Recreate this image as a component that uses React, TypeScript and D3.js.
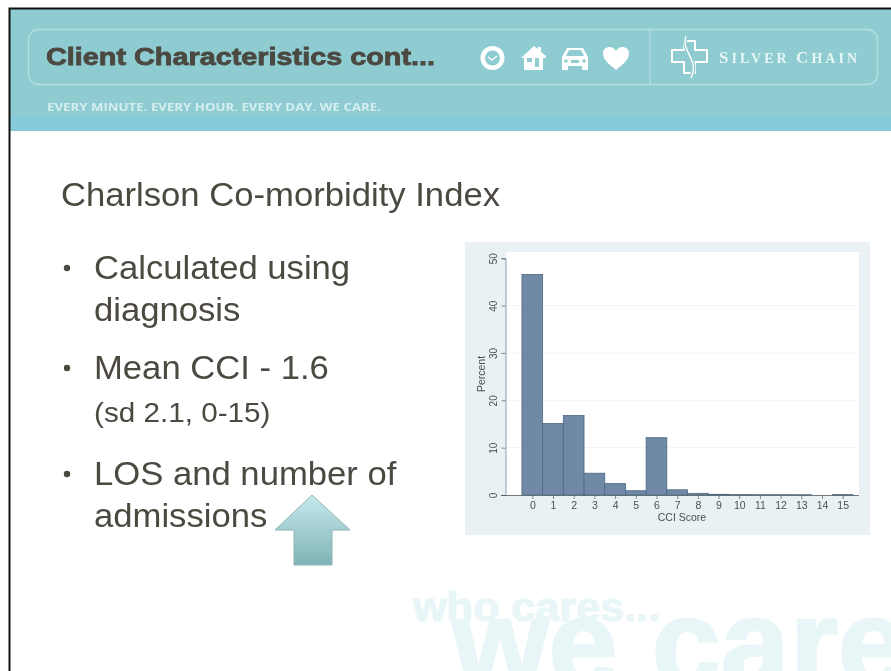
import React, { useEffect, useRef } from "react";
import * as d3 from "d3";

const scores = d3.range(0, 16);
const percents = [46.6, 15.1, 16.8, 4.6, 2.4, 0.9, 12.1, 1.1, 0.35, 0.15, 0.08, 0.07, 0.07, 0.06, 0, 0.08];
const yTicks = [0, 10, 20, 30, 40, 50];

const bullets = [
  { lines: ["Calculated using", "diagnosis"], baseline: 279 },
  { lines: ["Mean CCI - 1.6"], baseline: 379 },
  { lines: ["LOS and number of", "admissions"], baseline: 485 },
];

const SANS = "'Liberation Sans', Arial, sans-serif";
const INK = "#4b4841";
const AXIS = "#4f5c64";

const x = d3.scaleLinear().domain([0, 15]).range([532.3, 842.7]);
const y = d3.scaleLinear().domain([0, 50]).range([495, 258.3]);

function Chart() {
  const xRef = useRef<SVGGElement>(null);
  const yRef = useRef<SVGGElement>(null);

  useEffect(() => {
    const xAxis = d3.select(xRef.current!);
    xAxis.call(d3.axisBottom(x).tickValues(scores).tickSize(4).tickPadding(3).tickFormat(d3.format("d")) as any);
    xAxis.select(".domain").attr("d", "M501,0.5H859");
    xAxis.selectAll("line").attr("stroke", AXIS).attr("stroke-width", 0.7);
    xAxis.select(".domain").attr("stroke", AXIS).attr("stroke-width", 0.8);
    xAxis.selectAll("text").attr("fill", "#4a4f55").attr("font-size", 10.5).attr("font-family", SANS);

    const yAxis = d3.select(yRef.current!);
    yAxis.call(d3.axisLeft(y).tickValues(yTicks).tickSize(4).tickPadding(3) as any);
    yAxis.select(".domain").attr("stroke", AXIS).attr("stroke-width", 0.6);
    yAxis.selectAll("line").attr("stroke", AXIS).attr("stroke-width", 0.7);
    yAxis
      .selectAll("text")
      .attr("fill", "#4a4f55")
      .attr("font-size", 10)
      .attr("font-family", SANS)
      .attr("text-anchor", "middle")
      .attr("dy", 0)
      .attr("x", 0)
      .attr("y", 0)
      .attr("transform", "translate(-8.5,0) rotate(-90)");
  }, []);

  const barW = x(1) - x(0);
  return (
    <g filter="url(#soft)">
      <rect x={465} y={242} width={405} height={293} fill="#eaf1f4" />
      <rect x={506} y={252} width={353} height={243} fill="#ffffff" />
      {yTicks.slice(1, 5).map((t) => (
        <line key={t} x1={506} x2={859} y1={y(t)} y2={y(t)} stroke="#eef3f6" strokeWidth={0.8} />
      ))}
      {percents.map((p, i) => (
        <rect
          key={i}
          x={x(scores[i]) - barW / 2}
          y={y(p)}
          width={barW}
          height={y(0) - y(p)}
          fill="#6f89a6"
          stroke="#4d6782"
          strokeWidth={0.8}
        />
      ))}
      <g ref={xRef} transform={`translate(0,${y(0)})`} />
      <g ref={yRef} transform="translate(505.5,0)" />
      <text x={682} y={521} textAnchor="middle" fontSize={10.5} fill="#4a4f55" fontFamily={SANS}>CCI Score</text>
      <text transform="translate(485,374) rotate(-90)" textAnchor="middle" fontSize={10.5} fill="#4a4f55" fontFamily={SANS}>Percent</text>
    </g>
  );
}

function Header() {
  return (
    <g filter="url(#soft)">
      <rect x={10} y={9} width={881} height={122} fill="#8fccd1" />
      <rect x={10} y={116} width={881} height={15} fill="#86cadc" />
      <rect x={28.5} y={29.5} width={849} height={55} rx={10} fill="none" stroke="#b3e0e2" strokeWidth={1.3} />
      <line x1={650} x2={650} y1={29} y2={85} stroke="#b3e0e2" strokeWidth={1.2} />
      <text x={46} y={65} fontSize={24} fontWeight={700} fill={INK} stroke={INK} strokeWidth={0.8} fontFamily={SANS} textLength={389} lengthAdjust="spacingAndGlyphs">
        Client Characteristics cont...
      </text>
      <text x={47} y={111} fontSize={11} fontWeight={700} fill="#d4eef0" fontFamily="'Open Sans', sans-serif" textLength={334} lengthAdjust="spacingAndGlyphs">
        EVERY MINUTE. EVERY HOUR. EVERY DAY. WE CARE.
      </text>

      {/* clock */}
      <circle cx={492.5} cy={58} r={12} fill="#ffffff" />
      <circle cx={492.5} cy={58} r={7.5} fill="#8fccd1" />
      <path d="M488,57 L492,60 L497,56" fill="none" stroke="#ffffff" strokeWidth={1.3} />
      {/* house */}
      <path d="M521,58 L534,46 L538,49 V47 H541 V52 L546,56 V58 H543 V70 H524 V58 Z" fill="#ffffff" />
      <rect x={527} y={58} width={5} height={4} fill="#8fccd1" />
      <rect x={535} y={58} width={4} height={9} fill="#8fccd1" />
      {/* car */}
      <path d="M562,70 V57 L567,48 H583 L588,57 V70 H582 V66 H568 V70 Z" fill="#ffffff" />
      <path d="M566,56 L569,50 H581 L584,56 Z" fill="#8fccd1" />
      <circle cx={566} cy={61} r={1.8} fill="#8fccd1" />
      <circle cx={584} cy={61} r={1.8} fill="#8fccd1" />
      <rect x={571} y={60} width={8} height={3} fill="#8fccd1" />
      {/* heart */}
      <path d="M616,70 C608,63 603,60 603,53 C603,47 612,44 616,51 C620,44 629,47 629,53 C629,60 624,63 616,70 Z" fill="#ffffff" />
      {/* logo cross */}
      <path
        d="M684,50 V41 H695 V50 H707 V62 H695 V73 H684 V62 H672 V50 Z"
        fill="none"
        stroke="#ffffff"
        strokeWidth={2}
        strokeLinejoin="round"
      />
      <path d="M686,36 C680,50 700,60 691,78" fill="none" stroke="#8fccd1" strokeWidth={4} />
      <path d="M686,36 C680,50 700,60 691,78" fill="none" stroke="#ffffff" strokeWidth={1.4} />
      <text x={719} y={63} fontFamily="'Liberation Serif', serif" fontWeight={700} fill="#e6f5f5" fontSize={17} textLength={138} lengthAdjust="spacing">
        S<tspan fontSize={14}>ILVER </tspan>C<tspan fontSize={14}>HAIN</tspan>
      </text>
    </g>
  );
}

function Body() {
  return (
    <g fontFamily={SANS} fill={INK} filter="url(#soft)">
      <text transform="translate(61,206) scale(1.05,1)" fontSize={33}>Charlson Co-morbidity Index</text>
      {bullets.map((b) => (
        <g key={b.baseline}>
          <circle cx={67} cy={b.baseline - 11} r={3.2} />
          {b.lines.map((l, i) => (
            <text key={l} transform={`translate(94,${b.baseline + i * 41.5}) scale(1.05,1)`} fontSize={33}>{l}</text>
          ))}
        </g>
      ))}
      <text transform="translate(94,422) scale(1.06,1)" fontSize={28}>(sd 2.1, 0-15)</text>
    </g>
  );
}

export default function App() {
  return (
    <svg width={891} height={671} style={{ position: "absolute", left: 0, top: 0 }}>
      <defs>
        <filter id="soft" x="-5%" y="-5%" width="110%" height="110%">
          <feGaussianBlur stdDeviation={0.5} />
        </filter>
        <linearGradient id="arrow" x1="0" x2="0" y1="0" y2="1">
          <stop offset="0" stopColor="#c6e9ec" />
          <stop offset="1" stopColor="#7fb3b6" />
        </linearGradient>
      </defs>
      <rect width={891} height={671} fill="#ffffff" />

      {/* watermark */}
      <g fontFamily={SANS} fontWeight={700} fill="#e8f6f7" stroke="#e8f6f7">
        <text x={452} y={686} fontSize={124} strokeWidth={2.5}>we care</text>
        <text x={413} y={620.5} fontSize={40} strokeWidth={1} textLength={247} lengthAdjust="spacingAndGlyphs">who cares...</text>
      </g>

      <Header />
      <path d="M9.5,671 V8.5 H891" fill="none" stroke="#111111" strokeWidth={2} />
      <Body />

      {/* arrow */}
      <path
        d="M312,495 L350,530 H332 V565 H294 V530 H275 Z"
        fill="url(#arrow)"
        stroke="#8fb5b8"
        strokeWidth={1}
        filter="url(#soft)"
      />
      <Chart />
    </svg>
  );
}
